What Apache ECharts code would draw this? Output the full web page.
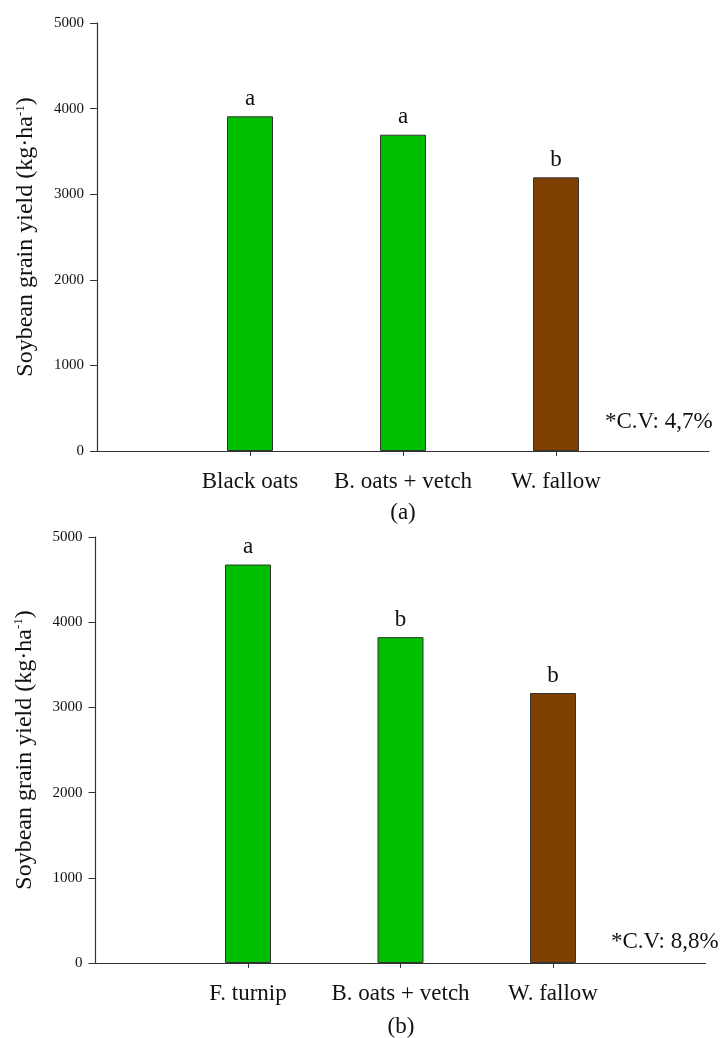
<!DOCTYPE html>
<html>
<head>
<meta charset="utf-8">
<script src="https://cdn.jsdelivr.net/npm/echarts@6/dist/echarts.min.js"></script>
<style>
  html, body { margin: 0; padding: 0; background: #fff; }
  #main { width: 722px; height: 1038px; }
</style>
</head>
<body>
<div id="main"></div>
<script>
var chart = echarts.init(document.getElementById('main'));

// panel (a)
var catsA = ['Black oats', 'B. oats + vetch', 'W. fallow'];
var yieldA = [3910, 3695, 3197];
var lettersA = ['a', 'a', 'b'];
// panel (b)
var catsB = ['F. turnip', 'B. oats + vetch', 'W. fallow'];
var yieldB = [4677, 3825, 3169];
var lettersB = ['a', 'b', 'b'];

var barColors = ['#00bf00', '#00bf00', '#7f3f00'];
var yMin = 0, yMax = 5000, yStep = 1000;

var serif = 'Liberation Serif';
var axisColor = '#333';

function xAxisFor(cats, gi) {
    return {
        type: 'category',
        gridIndex: gi,
        // empty slot at each end, so the bars sit on ticks 1..3
        data: [''].concat(cats).concat(['']),
        boundaryGap: false,
        axisLine: { lineStyle: { color: axisColor, width: 1.2 } },
        axisTick: {
            length: 5,
            interval: function (i) { return i > 0 && i <= cats.length; },
            lineStyle: { color: axisColor }
        },
        axisLabel: {
            interval: 0,
            margin: 19,
            color: '#111',
            fontFamily: serif,
            fontSize: 23
        },
        splitLine: { show: false }
    };
}

function yAxisFor(gi) {
    return {
        type: 'value',
        gridIndex: gi,
        min: yMin,
        max: yMax,
        interval: yStep,
        name: '{t|Soybean grain yield (kg·ha}{s|-1}{t|)}',
        nameLocation: 'middle',
        nameRotate: 90,
        nameGap: 59,
        nameTextStyle: {
            rich: {
                t: { fontFamily: serif, fontSize: 24, color: '#111' },
                s: { fontFamily: serif, fontSize: 13, color: '#111', verticalAlign: 'top', padding: [0, 0, 8, 0] }
            }
        },
        axisLine: { show: true, lineStyle: { color: axisColor, width: 1.2 } },
        axisTick: { show: true, length: 7, lineStyle: { color: axisColor } },
        axisLabel: {
            margin: 13,
            color: '#111',
            fontFamily: serif,
            fontSize: 15,
            formatter: function (v) { return String(v); }
        },
        splitLine: { show: false }
    };
}

function seriesFor(vals, letters, gi) {
    var data = [null];
    vals.forEach(function (v, i) {
        data.push({ value: v, itemStyle: { color: barColors[i] } });
    });
    data.push(null);
    return {
        type: 'bar',
        xAxisIndex: gi,
        yAxisIndex: gi,
        barWidth: 46,
        data: data,
        itemStyle: { borderColor: '#333', borderWidth: 1 },
        label: {
            show: true,
            position: 'top',
            distance: 6,
            color: '#111',
            fontFamily: serif,
            fontSize: 23,
            formatter: function (p) { return letters[p.dataIndex - 1]; }
        }
    };
}

function note(text, x, y, align) {
    return {
        type: 'text',
        x: x,
        y: y,
        style: {
            text: text,
            font: '23px "Liberation Serif"',
            fill: '#111',
            align: align,
            textAlign: align,
            verticalAlign: 'middle',
            textVerticalAlign: 'middle'
        }
    };
}

var option = {
    backgroundColor: '#fff',
    animation: false,
    grid: [
        { left: 97, right: 13, top: 23, bottom: 587 },
        { left: 95.5, right: 16.5, top: 537, bottom: 75 }
    ],
    xAxis: [xAxisFor(catsA, 0), xAxisFor(catsB, 1)],
    yAxis: [yAxisFor(0), yAxisFor(1)],
    series: [seriesFor(yieldA, lettersA, 0), seriesFor(yieldB, lettersB, 1)],
    graphic: [
        note('*C.V: 4,7%', 605, 422, 'left'),
        note('*C.V: 8,8%', 611, 942, 'left'),
        note('(a)', 403, 513, 'center'),
        note('(b)', 401, 1027, 'center')
    ]
};
chart.setOption(option);
</script>
</body>
</html>
